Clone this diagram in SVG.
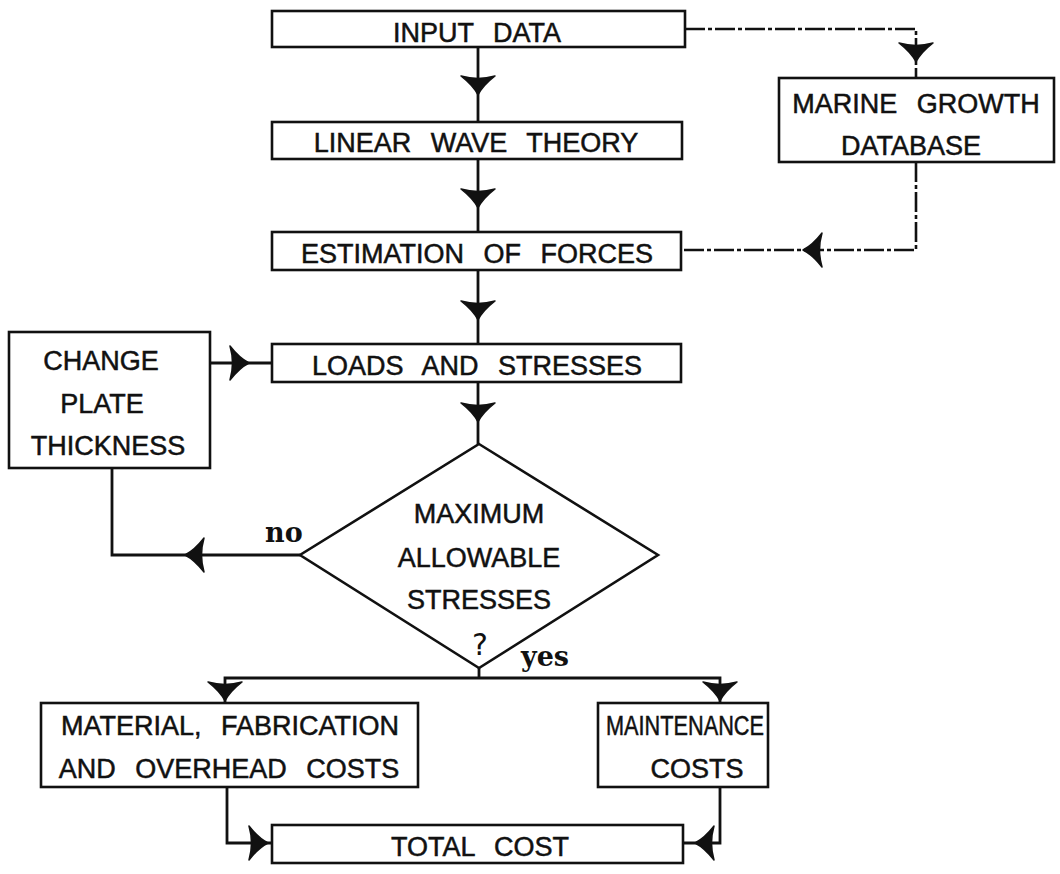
<svg xmlns="http://www.w3.org/2000/svg" xmlns:xlink="http://www.w3.org/1999/xlink" width="1060" height="874" viewBox="0 0 1060 874">
  <style>
    .box { fill: #fff; stroke: #111; stroke-width: 2.6; }
    .line { fill: none; stroke: #111; stroke-width: 2.8; }
    .dashdot { fill: none; stroke: #111; stroke-width: 2.6; stroke-dasharray: 20 3 4 3; }
    .lbl { font-family: "Liberation Sans", Arial, sans-serif; font-size: 27px; fill: #111; stroke: #111; stroke-width: 0.5; text-anchor: middle; word-spacing: 12px; }
    .ans { font-family: "DejaVu Serif", "Liberation Serif", serif; font-weight: bold; font-size: 27px; fill: #111; }
    .q { font-family: "DejaVu Sans", "Liberation Sans", sans-serif; font-size: 30px; fill: #111; text-anchor: middle; }
  </style>
  <defs>
    <!-- barbed arrowhead, tip at origin, pointing down -->
    <path id="ah" d="M0,1 C-3,-5 -8,-11 -17,-18 Q0,-13 17,-18 C8,-11 3,-5 0,1 Z" fill="#111" stroke="#111" stroke-width="1.5" stroke-linejoin="round"/>
  </defs>
  <rect width="1060" height="874" fill="#fff"/>

  <g id="connectors">
    <path class="line" d="M478,47 V122"/>
    <path class="line" d="M478,159 V232"/>
    <path class="line" d="M478,270 V344"/>
    <path class="line" d="M478,382 V444"/>
    <path class="dashdot" d="M685,29 H916 V78"/>
    <path class="dashdot" d="M916,162 V250 H681"/>
    <path class="line" d="M210,363 H272"/>
    <path class="line" d="M300,555 H112 V468"/>
    <path class="line" d="M479,668 V678"/>
    <path class="line" d="M225,703 V678 H720 V703"/>
    <path class="line" d="M227,787 V843 H272"/>
    <path class="line" d="M720,787 V843 H683"/>
    <use xlink:href="#ah" transform="translate(478,94)"/>
    <use xlink:href="#ah" transform="translate(478,207)"/>
    <use xlink:href="#ah" transform="translate(478,319)"/>
    <use xlink:href="#ah" transform="translate(478,421)"/>
    <use xlink:href="#ah" transform="translate(916,61)"/>
    <use xlink:href="#ah" transform="translate(804,250) rotate(90)"/>
    <use xlink:href="#ah" transform="translate(248,363) rotate(-90)"/>
    <use xlink:href="#ah" transform="translate(186,555) rotate(90)"/>
    <use xlink:href="#ah" transform="translate(225,700)"/>
    <use xlink:href="#ah" transform="translate(720,700)"/>
    <use xlink:href="#ah" transform="translate(267,843) rotate(-90)"/>
    <use xlink:href="#ah" transform="translate(696,843) rotate(90)"/>
  </g>

  <g id="input-data">
    <rect class="box" x="272" y="11" width="413" height="36"/>
    <text class="lbl" x="477" y="42">INPUT DATA</text>
  </g>
  <g id="linear-wave-theory">
    <rect class="box" x="272" y="122" width="410" height="37"/>
    <text class="lbl" x="476" y="152">LINEAR WAVE THEORY</text>
  </g>
  <g id="estimation-of-forces">
    <rect class="box" x="272" y="232" width="409" height="38"/>
    <text class="lbl" x="477" y="263">ESTIMATION OF FORCES</text>
  </g>
  <g id="loads-and-stresses">
    <rect class="box" x="272" y="344" width="409" height="38"/>
    <text class="lbl" x="477" y="375">LOADS AND STRESSES</text>
  </g>
  <g id="marine-growth-database">
    <rect class="box" x="779" y="78" width="275" height="84"/>
    <text class="lbl" x="916" y="113">MARINE GROWTH</text>
    <text class="lbl" x="911" y="155">DATABASE</text>
  </g>
  <g id="change-plate-thickness">
    <rect class="box" x="9" y="332" width="201" height="136"/>
    <text class="lbl" x="101" y="370">CHANGE</text>
    <text class="lbl" x="102" y="413">PLATE</text>
    <text class="lbl" x="108" y="455">THICKNESS</text>
  </g>
  <g id="maximum-allowable-stresses">
    <polygon class="box" points="479,444 658,555 479,668 300,555"/>
    <text class="lbl" x="479" y="523">MAXIMUM</text>
    <text class="lbl" x="479" y="567">ALLOWABLE</text>
    <text class="lbl" x="479" y="609">STRESSES</text>
    <text class="q" x="480" y="655" font-size="30">?</text>
    <text class="ans" x="265" y="542">no</text>
    <text class="ans" x="521" y="666">yes</text>
  </g>
  <g id="material-fabrication-overhead">
    <rect class="box" x="41" y="703" width="377" height="84"/>
    <text class="lbl" x="230" y="735">MATERIAL, FABRICATION</text>
    <text class="lbl" x="229" y="778">AND OVERHEAD COSTS</text>
  </g>
  <g id="maintenance-costs">
    <rect class="box" x="598" y="703" width="170" height="84"/>
    <text class="lbl" x="685" y="735" textLength="158" lengthAdjust="spacingAndGlyphs">MAINTENANCE</text>
    <text class="lbl" x="697" y="778">COSTS</text>
  </g>
  <g id="total-cost">
    <rect class="box" x="272" y="825" width="411" height="38"/>
    <text class="lbl" x="480" y="856">TOTAL COST</text>
  </g>
</svg>
